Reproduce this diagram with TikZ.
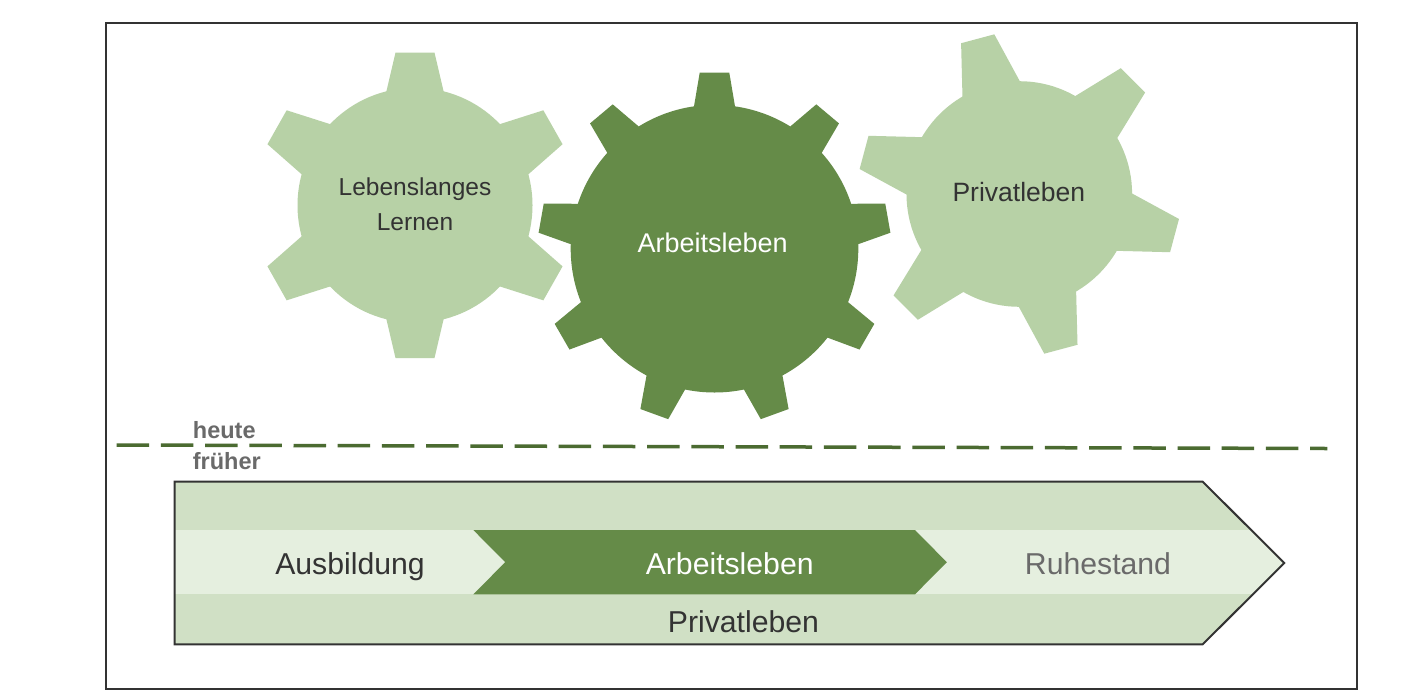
\documentclass[tikz,border=0pt]{standalone}
\usepackage{fontspec}
\setmainfont{Liberation Sans}
\definecolor{gearlight}{HTML}{B7D1A6}
\definecolor{geardark}{HTML}{658B48}
\definecolor{bandbg}{HTML}{D0E0C5}
\definecolor{bandstrip}{HTML}{E5EFDF}
\definecolor{dashgreen}{HTML}{4B6B31}
\definecolor{txtdark}{HTML}{333333}
\definecolor{txtgray}{HTML}{6A6A6A}
\definecolor{framegray}{HTML}{333333}
% #1 colour, #2 cx, #3 cy, #4 body radius, #5 tip half width,
% #6 base radial, #7 base half width, #8 list of angle/outer radius
\newcommand{\drawgearshape}[8]{%
  \fill[#1] (#2,#3) circle[radius=#4pt];
  \foreach \a/\r in {#8}{%
    \fill[#1, shift={(#2,#3)}, rotate=\a] (#6,-#7) -- (\r,-#5) -- (\r,#5) -- (#6,#7) -- cycle;}%
}
\begin{document}
\begin{tikzpicture}[x=1pt,y=-1pt,
  lbl/.style={inner sep=0pt, outer sep=0pt, anchor=base},
  gtext/.style={lbl, font=\fontsize{#1}{#1}\selectfont},
  btext/.style={lbl, font=\fontsize{30.2}{30.2}\selectfont},
  eratext/.style={inner sep=0pt, anchor=base west, text=txtgray,
    font=\fontsize{23.5}{23.5}\selectfont\bfseries},
  framestroke/.style={draw=framegray, line width=2pt},
  sepline/.style={dashgreen, line width=3.5pt, dash pattern=on 32.5pt off 11.7pt}]
\useasboundingbox (0,0) rectangle (1421,691);
\fill[white] (0,0) rectangle (1421,691);

% outer frame
\draw[framestroke] (105.7,23) rectangle (1357,689.3);

% gears
\drawgearshape{gearlight}{415}{205.3}{117.5}{19.5}{105}{30.7}{29.5/158.5,90/152.7,150.5/158.5,209.5/158.5,270/152.7,330.5/158.5}
\drawgearshape{gearlight}{1019.3}{194}{112.8}{17.2}{100}{31.8}{45/160.7,105/160.7,165/160.7,225/160.7,285/160.7,345/160.7}
\drawgearshape{geardark}{714.5}{248.7}{143.8}{14.8}{130}{22.6}{10/176,50/176,90/176,130/176,170/176,210/176,250/176,290/176,330/176}

\node[gtext=24.5, text=txtdark] (lern1) at (415,195) {Lebenslanges};
\node[gtext=24.5, text=txtdark] (lern2) at (415,230.7) {Lernen};
\node[gtext=27, text=white] (arbg) at (712.7,252.7) {Arbeitsleben};
\node[gtext=26.5, text=txtdark] (privg) at (1018.8,201.7) {Privatleben};

% separator
\coordinate (sepL) at (116.7,445);
\coordinate (sepR) at (1327.3,448.5);
\draw[sepline] (sepL) -- (sepR);
\node[eratext] (heute) at (192.7,438.3) {heute};
\node[eratext] (frueher) at (192.7,469) {früher};

% life band
\path[fill=bandbg] (174.7,481.7) -- (1202.7,481.7) -- (1284.3,563) -- (1202.7,644.3) -- (174.7,644.3) -- cycle;
\begin{scope}
  \clip (174.7,481.7) -- (1202.7,481.7) -- (1284.3,563) -- (1202.7,644.3) -- (174.7,644.3) -- cycle;
  \fill[bandstrip] (170,530) rectangle (1300,594.3);
\end{scope}
\fill[geardark] (473.3,530) -- (915,530) -- (946.8,562.2) -- (915,594.3) -- (473.3,594.3) -- (505.2,562.2) -- cycle;
\draw[framestroke, line join=miter] (174.7,481.7) -- (1202.7,481.7) -- (1284.3,563) -- (1202.7,644.3) -- (174.7,644.3) -- cycle;

\node[btext, text=txtdark] (ausb) at (350,574.5) {Ausbildung};
\node[btext, text=white] (arbb) at (729.7,574.5) {Arbeitsleben};
\node[btext, text=txtgray] (ruhe) at (1098,574.5) {Ruhestand};
\node[btext, text=txtdark] (privb) at (743.4,632.9) {Privatleben};
\end{tikzpicture}
\end{document}
